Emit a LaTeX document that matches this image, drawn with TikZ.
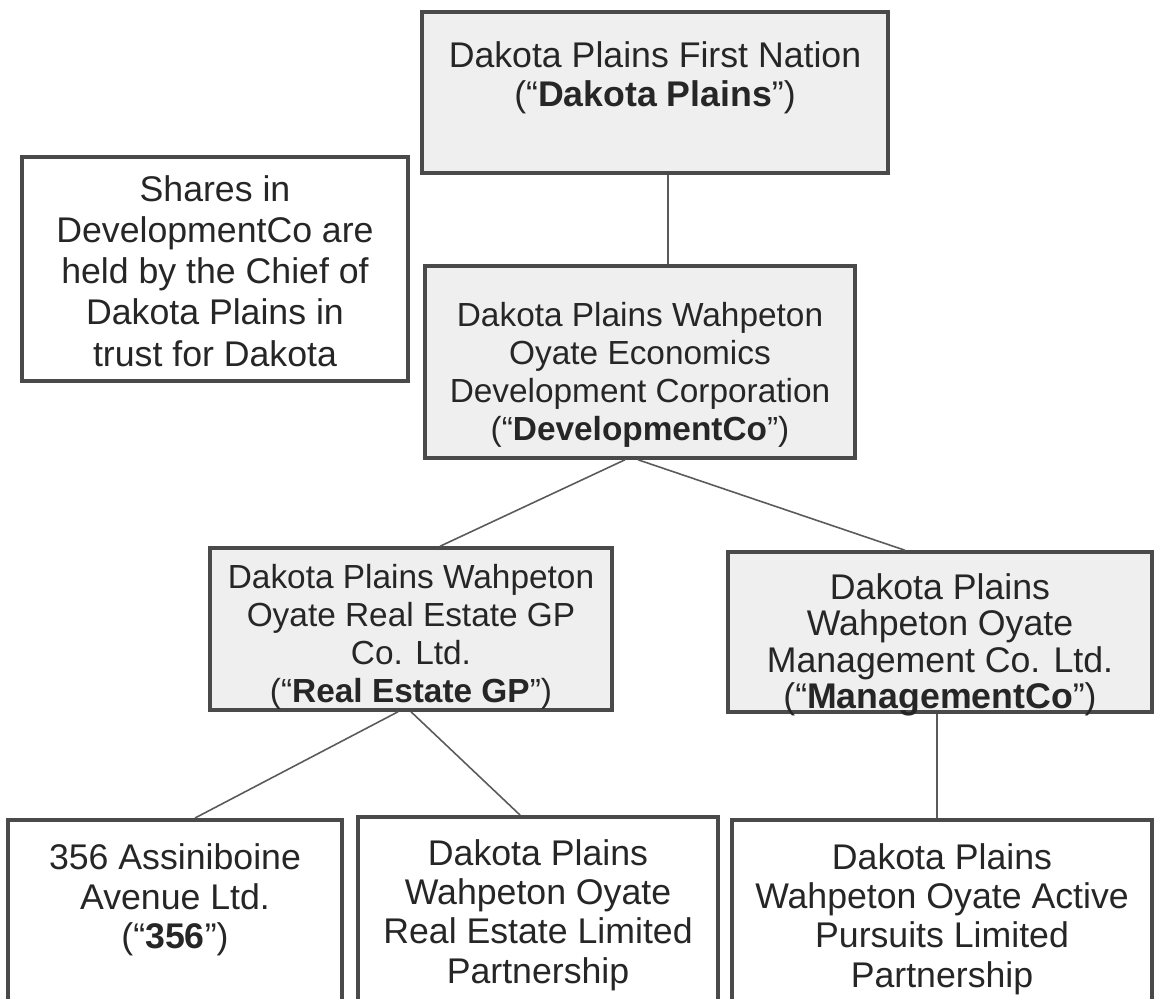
\documentclass[tikz,border=0pt]{standalone}
\usepackage{fontspec}
\setmainfont{Liberation Sans}
\definecolor{borda}{HTML}{4A4A4A}
\definecolor{fundo}{HTML}{EFEFEF}
\definecolor{linha}{HTML}{5A5A5A}
\definecolor{tinta}{HTML}{262626}
\begin{document}
\begin{tikzpicture}[
    caixa/.style={rectangle, draw=borda, line width=2pt, inner sep=0pt},
    texto/.style={align=center, inner sep=0pt, text=tinta, font=\fontsize{20.3}{22.4}\selectfont},
    menor/.style={font=\fontsize{19}{21.6}\selectfont}, % caixas do meio
    ligacao/.style={draw=linha, line width=0.9pt} % linhas finas
    ]
    \useasboundingbox (0,0) rectangle (23.10,-19.96);
    % caixas
    \node[caixa, fill=fundo, minimum width=9.32cm, minimum height=3.22cm] (nation) at (13.10,-1.85) {};
    \node[caixa, fill=white, minimum width=7.72cm, minimum height=4.48cm] (shares) at (4.30,-5.38) {};
    \node[caixa, fill=fundo, minimum width=8.60cm, minimum height=3.84cm] (devco) at (12.80,-7.24) {};
    \node[caixa, fill=fundo, minimum width=8.04cm, minimum height=3.24cm] (regp) at (8.22,-12.58) {};
    \node[caixa, fill=fundo, minimum width=8.48cm, minimum height=3.20cm] (mgmt) at (18.80,-12.64) {};
    \node[caixa, fill=white, minimum width=6.68cm, minimum height=4.44cm, anchor=north] (avenue) at (3.50,-16.36) {};
    \node[caixa, fill=white, minimum width=7.20cm, minimum height=4.50cm, anchor=north] (relp) at (10.76,-16.30) {};
    \node[caixa, fill=white, minimum width=8.40cm, minimum height=4.44cm, anchor=north] (active) at (18.84,-16.36) {};
    % textos
    \node[texto] at (13.10,-1.56) {Dakota Plains First Nation\\(“\textbf{Dakota Plains}”)};
    \node[texto, font=\fontsize{20.3}{23.4}\selectfont] at (4.30,-5.42) {Shares in\\DevelopmentCo are\\held by the Chief of\\Dakota Plains in\\trust for Dakota};
    \node[texto, menor] at (12.80,-7.50) {Dakota Plains Wahpeton\\Oyate Economics\\Development Corporation\\(“\textbf{DevelopmentCo}”)};
    \node[texto, menor] at (8.22,-12.74) {Dakota Plains Wahpeton\\Oyate Real Estate GP\\Co. Ltd.\\(“\textbf{Real Estate GP}”)};
    \node[texto, font=\fontsize{20.3}{20.8}\selectfont] at (18.80,-12.90) {Dakota Plains\\Wahpeton Oyate\\Management Co. Ltd.\\(“\textbf{ManagementCo}”)};
    \node[texto] at (3.50,-18.00) {356 Assiniboine\\Avenue Ltd.\\(“\textbf{356}”)};
    \node[texto] at (10.76,-18.30) {Dakota Plains\\Wahpeton Oyate\\Real Estate Limited\\Partnership};
    \node[texto] at (18.84,-18.38) {Dakota Plains\\Wahpeton Oyate Active\\Pursuits Limited\\Partnership};
    % ligacoes
    \draw[ligacao] ([xshift=0.26cm]nation.south) -- ([xshift=0.26cm]nation.south |- devco.north);
    \draw[ligacao] ([xshift=-0.30cm]devco.south) -- ([xshift=0.58cm]regp.north);
    \draw[ligacao] ([xshift=-0.04cm]devco.south) -- ([xshift=-0.70cm]mgmt.north);
    \draw[ligacao] ([xshift=-0.26cm]regp.south) -- ([xshift=0.40cm]avenue.north);
    \draw[ligacao] (regp.south) -- ([xshift=-0.36cm]relp.north);
    \draw[ligacao] ([xshift=-0.06cm]mgmt.south) -- ([xshift=-0.06cm]mgmt.south |- active.north);
\end{tikzpicture}
\end{document}
